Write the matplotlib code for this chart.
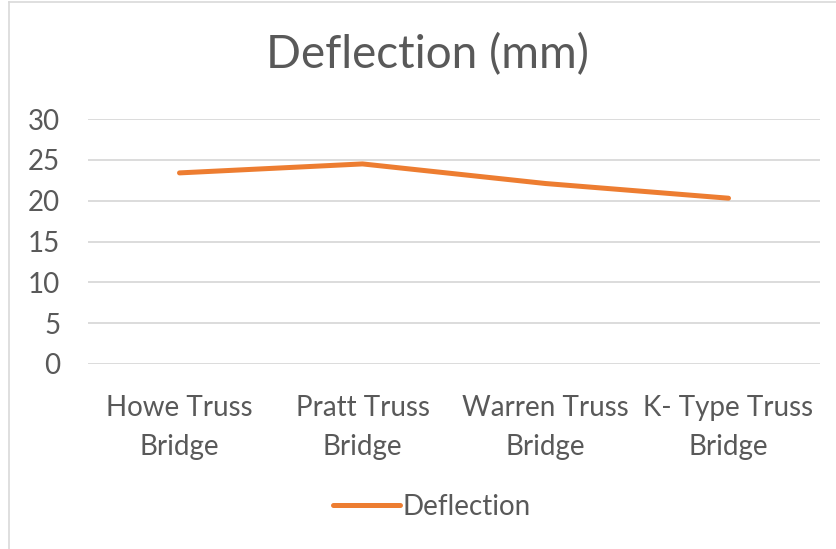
import matplotlib
matplotlib.use("Agg")
import matplotlib.pyplot as plt
from matplotlib.lines import Line2D

# data
bridges = ["Howe Truss\nBridge", "Pratt Truss\nBridge", "Warren Truss\nBridge", "K- Type Truss\nBridge"]
deflection = [23.4, 24.5, 22.1, 20.3]
y_ticks = [0, 5, 10, 15, 20, 25, 30]

plt.rcParams['font.family'] = ['Lato', 'DejaVu Sans']
text_col = '#595959'
orange = '#ED7D31'

fig = plt.figure(figsize=(8.37, 5.49), dpi=100)
ax = fig.add_axes([88/837, 1 - 364/549, 732/837, 245/549])

x = list(range(len(bridges)))
ax.plot(x, deflection, color=orange, linewidth=3.6, solid_capstyle='round', label='Deflection')

ax.set_xlim(-0.5, len(bridges) - 0.5)
ax.set_ylim(0, 30)
ax.set_yticks(y_ticks)
ax.set_xticks(x)
ax.set_xticklabels(bridges, fontsize=20, color=text_col, linespacing=1.65)
ax.tick_params(axis='y', labelsize=20, labelcolor=text_col, length=0, pad=20)
ax.tick_params(axis='x', length=0, pad=22)
ax.grid(axis='y', color='#d9d9d9', linewidth=1.3)
ax.set_axisbelow(True)
for s in ax.spines.values():
    s.set_visible(False)

fig.text(428/837, 1 - 55/549, "Deflection (mm)", fontsize=33, color=text_col, ha='center', va='center')

leg = fig.legend(loc='center', bbox_to_anchor=(432/837, 1 - 507/549), frameon=False,
                 fontsize=20, handlelength=2.4, handletextpad=0.1, labelcolor=text_col)

# chart border (left and top edges are visible in the crop)
fig.add_artist(Line2D([9/837, 9/837], [0, 1 - 2/549], color='#d9d9d9', linewidth=1.2))
fig.add_artist(Line2D([9/837, 1], [1 - 2/549, 1 - 2/549], color='#d9d9d9', linewidth=1.2))

fig.savefig("out.png", dpi=100)
